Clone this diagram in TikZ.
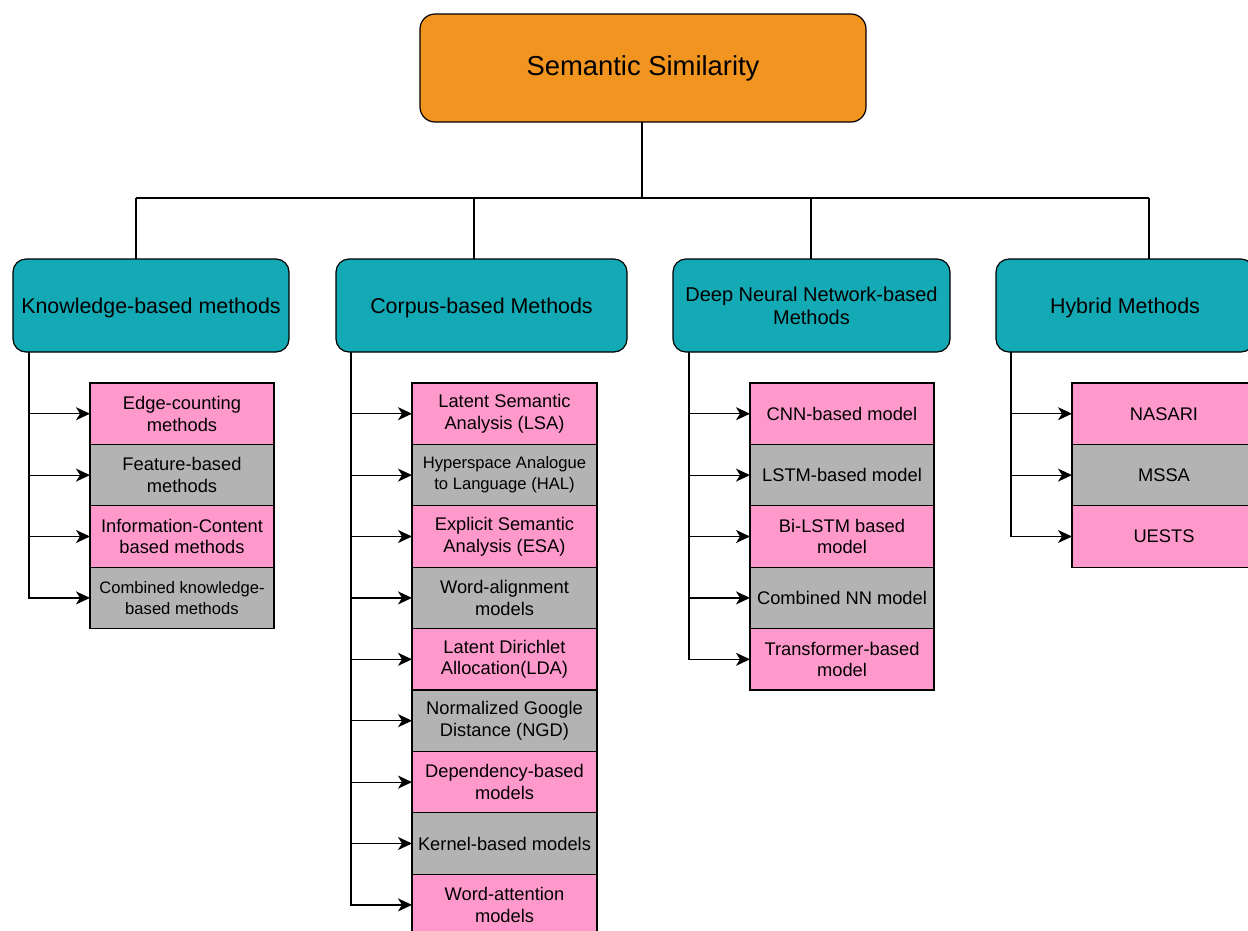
\documentclass[tikz,border=0pt]{standalone}
\usepackage{fontspec}
\setmainfont{Liberation Sans}
\usetikzlibrary{arrows.meta}
\definecolor{toporange}{HTML}{F19420}
\definecolor{tealc}{HTML}{13A9B5}
\definecolor{pinkc}{HTML}{FF99CC}
\definecolor{grayc}{HTML}{B3B3B3}
\tikzset{
  topbox/.style={draw=black, line width=1.2pt, fill=toporange, rounded corners=15pt,
    minimum width=446pt, minimum height=108pt, inner sep=0pt, outer sep=0pt,
    font=\fontsize{27.4}{32}\selectfont},
  midbox/.style={draw=black, line width=1.2pt, fill=tealc, rounded corners=13pt,
    minimum height=93pt, inner sep=0pt, outer sep=0pt, align=center,
    font=\fontsize{21.4}{24}\selectfont},
  oneline/.style={text depth=0pt},
  leaf/.style={draw=black, line width=1.2pt, minimum width=184pt, minimum height=61.4pt,
    inner sep=0pt, outer sep=0pt, align=center, font=\fontsize{18.3}{21.6}\selectfont},
  pk/.style={leaf, fill=pinkc},
  gy/.style={leaf, fill=grayc},
  small/.style={font=\fontsize{16.6}{21}\selectfont},
  conn/.style={draw=black, line width=1.2pt},
  arr/.style={conn, -{Stealth[length=14pt,width=13pt,inset=4pt]}},
}
\begin{document}
\begin{tikzpicture}[x=1pt,y=-1pt]
\clip (0,0) rectangle (1248,930);
\fill[white] (0,0) rectangle (1248,930);

\node[topbox] (top) at (643,68) {Semantic Similarity};

\node[midbox, oneline, minimum width=276pt] (kb) at (151,305.5) {Knowledge-based methods};
\node[midbox, oneline, minimum width=291pt] (cb) at (481.5,305.5) {Corpus-based Methods};
\node[midbox, minimum width=277pt, font=\fontsize{20}{23}\selectfont] (dn) at (811.5,305.5) {Deep Neural Network-based\\Methods};
\node[midbox, oneline, minimum width=258pt] (hy) at (1125,305.5) {Hybrid Methods};

% top connectors
\coordinate (bus) at (642,198);
\coordinate (dk) at (136,198);
\coordinate (dc) at (474,198);
\coordinate (dd) at (811,198);
\coordinate (dh) at (1149,198);
\draw[conn] (top.south -| bus) -- (bus);
\draw[conn] (dk) -- (dh);
\draw[conn] (dk) -- (dk |- kb.north);
\draw[conn] (dc) -- (dc |- cb.north);
\draw[conn] (dd) -- (dd |- dn.north);
\draw[conn] (dh) -- (dh |- hy.north);

% Knowledge children
\node[pk] (k1) at (182,413.7) {Edge-counting\\methods};
\node[gy] (k2) at (182,475.1) {Feature-based\\methods};
\node[pk] (k3) at (182,536.5) {Information-Content\\based methods};
\node[gy, small] (k4) at (182,597.9) {Combined knowledge-\\based methods};
\coordinate (kt) at ([xshift=16pt]kb.south west);
\foreach \n in {k1,k2,k3,k4} \draw[arr] (kt) |- (\n.west);

% Corpus children
\node[pk, minimum width=185pt] (c1) at (504.5,413.7) {Latent Semantic\\Analysis (LSA)};
\node[gy, small, minimum width=185pt] (c2) at (504.5,475.1) {Hyperspace Analogue\\to Language (HAL)};
\node[pk, minimum width=185pt] (c3) at (504.5,536.5) {Explicit Semantic\\Analysis (ESA)};
\node[gy, minimum width=185pt] (c4) at (504.5,597.9) {Word-alignment\\models};
\node[pk, minimum width=185pt] (c5) at (504.5,659.3) {Latent Dirichlet\\Allocation(LDA)};
\node[gy, minimum width=185pt] (c6) at (504.5,720.7) {Normalized Google\\Distance (NGD)};
\node[pk, minimum width=185pt] (c7) at (504.5,782.1) {Dependency-based\\models};
\node[gy, minimum width=185pt] (c8) at (504.5,843.5) {Kernel-based models};
\node[pk, minimum width=185pt] (c9) at (504.5,904.9) {Word-attention\\models};
\coordinate (ct) at ([xshift=15pt]cb.south west);
\foreach \n in {c1,c2,c3,c4,c5,c6,c7,c8,c9} \draw[arr] (ct) |- (\n.west);

% DNN children
\node[pk] (d1) at (842,413.7) {CNN-based model};
\node[gy] (d2) at (842,475.1) {LSTM-based model};
\node[pk] (d3) at (842,536.5) {Bi-LSTM based\\model};
\node[gy] (d4) at (842,597.9) {Combined NN model};
\node[pk] (d5) at (842,659.3) {Transformer-based\\model};
\coordinate (dt) at ([xshift=16pt]dn.south west);
\foreach \n in {d1,d2,d3,d4,d5} \draw[arr] (dt) |- (\n.west);

% Hybrid children
\node[pk] (h1) at (1164,413.7) {NASARI};
\node[gy] (h2) at (1164,475.1) {MSSA};
\node[pk] (h3) at (1164,536.5) {UESTS};
\coordinate (ht) at ([xshift=15pt]hy.south west);
\foreach \n in {h1,h2,h3} \draw[arr] (ht) |- (\n.west);
\end{tikzpicture}
\end{document}
